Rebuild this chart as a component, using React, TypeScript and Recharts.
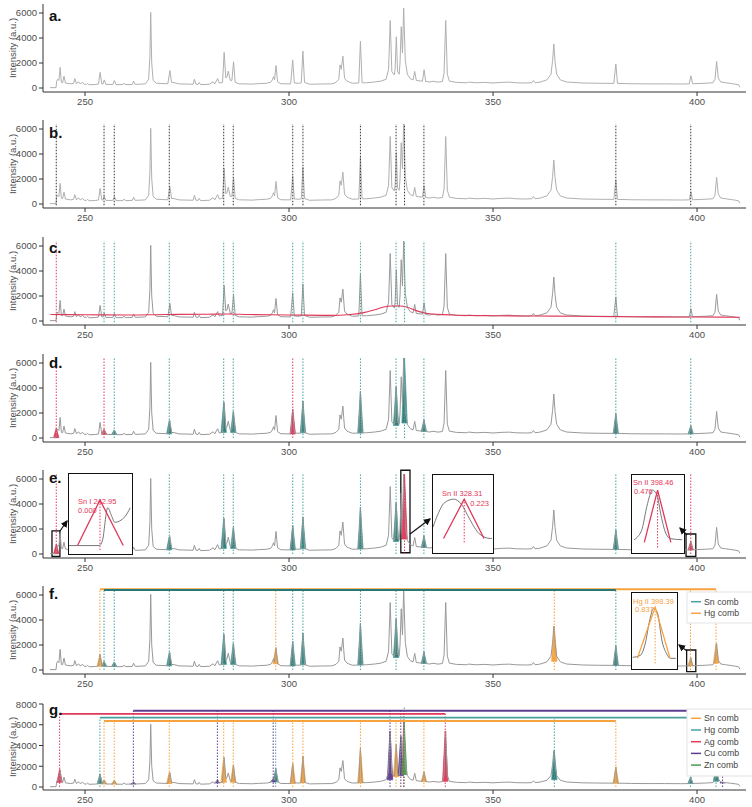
import React from 'react';
import { ComposedChart, Line, Area, XAxis, YAxis, ReferenceLine, ReferenceArea } from 'recharts';

const FONT = '"Liberation Sans", Arial, Helvetica, sans-serif';

// ---------- data ----------
const spectrum: [number, number][] = [
  [241.4, 30], [242.9, 30], [243.05, 550], [243.3, 700], [243.6, 600], [243.9, 1650], [244.2, 450], [244.5, 420],
  [244.85, 950], [245.2, 400], [246.5, 330], [247.2, 380], [247.5, 750], [247.9, 330], [248.4, 500], [248.8, 330],
  [249.4, 450], [249.8, 300], [250.3, 280], [250.6, 380], [251.0, 260], [252.5, 280], [253.3, 320], [253.7, 1250],
  [254.1, 330], [254.4, 320], [254.7, 650], [255.1, 290], [256.8, 280], [257.2, 600], [257.6, 270], [259.3, 270],
  [259.6, 400], [259.9, 270], [261.6, 290], [261.9, 550], [262.3, 290], [264.8, 330], [265.6, 700], [265.9, 2500],
  [266.1, 6050], [266.35, 2000], [266.7, 600], [267.5, 380], [270.3, 340], [270.8, 1400], [271.2, 450], [272.0, 420],
  [273, 330], [276.5, 300], [276.8, 700], [277.2, 300], [277.7, 290], [278.0, 450], [278.3, 270], [280.5, 300],
  [281.4, 500], [281.8, 330], [282.5, 750], [282.9, 400], [283.7, 450], [284.1, 2850], [284.5, 800], [284.8, 900],
  [285.1, 1350], [285.6, 600], [286.0, 620], [286.4, 2100], [286.8, 450], [287.8, 330], [289, 330], [291, 310],
  [292.5, 350], [294.5, 380], [295.5, 450], [295.9, 650], [296.2, 900], [296.45, 650], [296.8, 1800], [297.2, 500],
  [298.0, 340], [300.4, 330], [300.9, 2250], [301.3, 400], [302.5, 380], [303.0, 420], [303.4, 2950], [303.8, 450],
  [305, 300], [308, 320], [310.5, 330], [311.5, 450], [312.2, 700], [312.5, 1850], [312.8, 1500], [313.2, 2550],
  [313.6, 800], [314.2, 550], [314.6, 500], [315.5, 380], [317.1, 400], [317.5, 3750], [317.9, 420], [319, 420],
  [321, 480], [322.5, 550], [323.8, 700], [324.4, 1500], [324.8, 5400], [325.2, 1300], [325.8, 1050], [326.0, 1500],
  [326.3, 4100], [326.6, 1300], [327.0, 1100], [327.2, 2000], [327.5, 4900], [327.8, 2800], [328.1, 6400], [328.5, 2200],
  [329, 1100], [329.7, 750], [330.4, 650], [330.8, 1330], [331.2, 600], [332.7, 550], [333.1, 1460], [333.5, 520],
  [334.5, 480], [335.3, 540], [336.5, 470], [337.6, 520], [338.0, 1200], [338.4, 5400], [338.8, 1100], [339.3, 550],
  [341, 450], [343.5, 420], [344, 470], [346, 420], [348, 450], [350, 400], [352, 450], [354, 470], [355.5, 420],
  [358, 400], [359.5, 420], [359.9, 600], [360.3, 420], [361.5, 470], [363.2, 650], [364.2, 1100], [364.6, 2200],
  [364.9, 3520], [365.2, 2100], [365.6, 1100], [366.5, 650], [368, 480], [372, 400], [376, 380], [379.6, 370],
  [380.1, 1920], [380.5, 370], [384, 340], [388, 330], [392, 330], [396, 320], [398.1, 330], [398.5, 980],
  [398.9, 340], [402, 380], [403.9, 420], [404.4, 700], [404.8, 2130], [405.2, 800], [405.8, 480], [407, 420],
  [408.5, 350], [409.5, 300], [410.2, 250], [410.5, 60],
];

const baselineFit: [number, number][] = [
  [241.5, 520], [250, 500], [260, 480], [270, 520], [280, 540], [285, 560], [290, 520], [300, 480], [310, 450],
  [315, 520], [318, 650], [321, 900], [323, 1100], [325, 1200], [327, 1200], [329, 1100], [331, 850], [334, 600],
  [340, 480], [350, 420], [360, 400], [370, 380], [380, 350], [390, 330], [400, 320], [410.5, 300],
];

const xTicks = [250, 300, 350, 400];
const yTicks6 = [0, 1000, 2000, 3000, 4000, 5000, 6000];
const yTicks8 = [0, 2000, 4000, 6000, 8000];

const snLines = [242.95, 254.66, 257.16, 270.65, 283.99, 286.33, 300.91, 303.41, 317.5, 326.23, 328.31, 333.06, 380.1, 398.46];
const snHeights = [780, 700, 650, 1400, 2850, 2150, 2300, 2950, 3700, 4100, 6400, 1450, 1950, 1000];
const snBases = [30, 300, 280, 340, 450, 450, 330, 420, 400, 1000, 1200, 520, 370, 330];

const dRed = [242.95, 254.66, 300.91];
const eRed = [242.95, 328.31, 398.46];
const fSn = [254.66, 257.16, 270.65, 283.99, 286.33, 300.91, 303.41, 317.5, 326.23, 333.06, 380.1];

const hgLines = [253.65, 296.73, 365.02, 398.39, 404.66];
const hgHeights = [1250, 1750, 3500, 950, 2100];
const hgBases = [320, 500, 700, 330, 550];

const agLines = [243.78, 338.29];
const agHeights = [1700, 5400];
const agBases = [450, 550];

const cuLines = [261.84, 282.44, 296.12, 324.75, 327.4, 406.26];
const cuHeights = [420, 600, 800, 5400, 4900, 450];
const cuBases = [290, 400, 500, 700, 1100, 400];

const znLines = [328.23];
const znHeights = [6300];
const znBases = [1200];

// inset data (normalised intensities)
const insetSnI = [[242.55, 0], [242.94, 0], [242.98, 0.1], [243.05, 0.83], [243.1, 0.65], [243.14, 0.51], [243.27, 0.63], [243.34, 0.83]];
const insetSnITri = [[242.66, 0], [242.95, 1], [243.25, 0]];
const insetSn328 = [[327.984, 0.29], [328.034, 0.61], [328.1, 0.9], [328.2, 1.0], [328.284, 0.86], [328.367, 0.49], [328.467, 0.12], [328.584, 0], [328.6, 0]];
const insetSn328Tri = [[328.094, 0], [328.31, 1], [328.517, 0]];
const insetSn398 = [[398.213, 0.05], [398.247, 0.1], [398.297, 0.26], [398.347, 0.69], [398.407, 1.0], [398.453, 0.91], [398.497, 0.51], [398.547, 0.17], [398.597, 0.07], [398.72, 0.05]];
const insetSn398Tri = [[398.32, 0], [398.46, 1], [398.6, 0]];
const insetHg398 = [[398.15, 0.02], [398.233, 0.06], [398.283, 0.28], [398.333, 0.75], [398.373, 0.98], [398.413, 0.9], [398.466, 0.32], [398.513, 0.09], [398.553, 0], [398.61, 0]];
const insetHg398Tri = [[398.2, 0], [398.39, 1], [398.55, 0]];

// ---------- colours ----------
const GRAY_LIGHT = '#b0b0b0';
const GRAY = '#999999';
const TEAL = '#2b7773';
const TEAL_L = '#47a09c';
const RED = '#e2375a';
const ORANGE = '#f5a23f';
const PURPLE = '#5e3c8f';
const GREEN = '#4e9a4e';

const specData = spectrum.map(([x, y]) => ({ x, y }));
const fitData = baselineFit.map(([x, y]) => ({ x, y }));
const toXY = (a: number[][]) => a.map(([x, y]) => ({ x, y }));

const pick = (lines: number[], arr: number[], sel: number[]) => sel.map((s) => arr[lines.indexOf(s)]);
const exclude = (lines: number[], sel: number[]) => lines.filter((l) => !sel.includes(l));

function triangles(lines: number[], heights: number[], bases: number[], fill: string, stroke: string, key: string) {
  return lines.map((x, i) => {
    const b = bases[i];
    const data = [
      { x: x - 0.65, r: [b, b] },
      { x, r: [b, heights[i]] },
      { x: x + 0.65, r: [b, b] },
    ];
    return (
      <Area key={key + i} data={data} dataKey="r" type="linear" stroke={stroke} strokeWidth={0.8}
        fill={fill} fillOpacity={0.95} isAnimationActive={false} dot={false} activeDot={false} />
    );
  });
}

function dotted(lines: number[], color: string, y0: number, y1: number, key: string) {
  return lines.map((x, i) => (
    <ReferenceLine key={key + i} segment={[{ x, y: y0 }, { x, y: y1 }]} stroke={color}
      strokeDasharray="1.5 1.5" strokeWidth={1} ifOverflow="visible" />
  ));
}

function hline(x1: number, x2: number, y: number, color: string, key: string) {
  return <ReferenceLine key={key} segment={[{ x: x1, y }, { x: x2, y }]} stroke={color} strokeWidth={1.8} ifOverflow="visible" />;
}

const specLine = (key: string, color = GRAY) => (
  <Line key={key} data={specData} dataKey="y" type="linear" stroke={color} strokeWidth={1} dot={false}
    activeDot={false} isAnimationActive={false} />
);

function Panel({ top, height, yDomain, yTicks, children }: any) {
  return (
    <div style={{ position: 'absolute', left: 0, top, width: 752, height }}>
      <ComposedChart width={752} height={height} margin={{ top: 4, right: 6, bottom: 0, left: 0 }}>
        <XAxis type="number" dataKey="x" domain={[239.7, 412]} ticks={xTicks} allowDataOverflow
          tickSize={4} height={20} axisLine={{ stroke: '#333' }} tickLine={{ stroke: '#333' }}
          tick={{ fontSize: 9.5, fill: '#4d4d4d', fontFamily: FONT }} />
        <YAxis type="number" domain={yDomain} ticks={yTicks} allowDataOverflow width={43} tickSize={4}
          axisLine={{ stroke: '#333' }} tickLine={{ stroke: '#333' }}
          tick={{ fontSize: 9.5, fill: '#4d4d4d', fontFamily: FONT }}
          label={{ value: 'Intensity (a.u.)', angle: -90, position: 'center', dx: -9, style: { fontSize: 9.5, fill: '#4d4d4d', fontFamily: FONT } }} />
        {children}
      </ComposedChart>
    </div>
  );
}

function Inset({ x, y, w, h, xDomain, yDomain, gray, tri, color, center }: any) {
  return (
    <div style={{ position: 'absolute', left: x, top: y, width: w, height: h, border: '1.5px solid #111', background: '#fff', boxSizing: 'border-box' }}>
      <ComposedChart width={w - 3} height={h - 3} margin={{ top: 0, right: 0, bottom: 0, left: 0 }}>
        <XAxis type="number" dataKey="x" domain={xDomain} hide allowDataOverflow />
        <YAxis type="number" domain={yDomain} hide allowDataOverflow />
        <ReferenceLine segment={[{ x: center, y: -0.1 }, { x: center, y: 1.0 }]} stroke={color} strokeDasharray="1.5 1.5" />
        <Line data={toXY(gray)} dataKey="y" type="monotone" stroke="#777" strokeWidth={1} dot={false} activeDot={false} isAnimationActive={false} />
        <Line data={toXY(tri)} dataKey="y" type="linear" stroke={color} strokeWidth={1.3} dot={false} activeDot={false} isAnimationActive={false} />
      </ComposedChart>
    </div>
  );
}

const D6: [number, number] = [-320, 6720];

export default function App() {
  const dTeal = exclude(snLines, dRed);
  const eTeal = exclude(snLines, eRed);
  return (
    <div style={{ position: 'absolute', left: 0, top: 0, width: 752, height: 807, background: '#fff', overflow: 'hidden', fontFamily: FONT }}>
      {/* a */}
      <Panel top={0} height={112} yDomain={D6} yTicks={yTicks6}>
        {specLine('s', GRAY_LIGHT)}
      </Panel>
      {/* b */}
      <Panel top={116} height={112} yDomain={D6} yTicks={yTicks6}>
        {specLine('s', GRAY_LIGHT)}
        {dotted(snLines, '#333', -100, 6400, 'b')}
      </Panel>
      {/* c */}
      <Panel top={233} height={112} yDomain={D6} yTicks={yTicks6}>
        {specLine('s', GRAY)}
        <Line data={fitData} dataKey="y" type="monotone" stroke={RED} strokeWidth={1.1} dot={false} activeDot={false} isAnimationActive={false} />
        {dotted([242.95], RED, -100, 6400, 'cr')}
        {dotted(exclude(snLines, [242.95]), TEAL_L, -100, 6400, 'ct')}
      </Panel>
      {/* d */}
      <Panel top={350} height={112} yDomain={D6} yTicks={yTicks6}>
        {specLine('s')}
        {triangles(dTeal, pick(snLines, snHeights, dTeal), pick(snLines, snBases, dTeal), TEAL, TEAL_L, 'dt')}
        {triangles(dRed, pick(snLines, snHeights, dRed), pick(snLines, snBases, dRed), RED, RED, 'dr')}
        {dotted(dTeal, TEAL_L, 0, 6400, 'dlt')}
        {dotted(dRed, RED, 0, 6400, 'dlr')}
      </Panel>
      {/* e */}
      <Panel top={466} height={112} yDomain={D6} yTicks={yTicks6}>
        {specLine('s')}
        {triangles(eTeal, pick(snLines, snHeights, eTeal), pick(snLines, snBases, eTeal), TEAL, TEAL_L, 'et')}
        {triangles(eRed, pick(snLines, snHeights, eRed), pick(snLines, snBases, eRed), RED, RED, 'er')}
        {dotted(eTeal, TEAL_L, 0, 6400, 'elt')}
        {dotted(eRed, RED, 0, 6400, 'elr')}
        <ReferenceArea x1={241.9} x2={243.85} y1={-200} y2={1850} stroke="#111" strokeWidth={1.3} fill="none" fillOpacity={0} ifOverflow="visible" />
        <ReferenceArea x1={327.4} x2={329.65} y1={100} y2={6700} stroke="#111" strokeWidth={1.3} fill="none" fillOpacity={0} ifOverflow="visible" />
        <ReferenceArea x1={397.3} x2={399.7} y1={-200} y2={1600} stroke="#111" strokeWidth={1.3} fill="none" fillOpacity={0} ifOverflow="visible" />
      </Panel>
      {/* f */}
      <Panel top={582} height={112} yDomain={D6} yTicks={yTicks6}>
        {specLine('s')}
        {triangles(fSn, pick(snLines, snHeights, fSn), pick(snLines, snBases, fSn), TEAL, TEAL_L, 'ft')}
        {triangles(hgLines, hgHeights, hgBases, ORANGE, ORANGE, 'fo')}
        {dotted(fSn, TEAL_L, 0, 6400, 'flt')}
        {dotted(hgLines, ORANGE, 0, 6460, 'flo')}
        {hline(253.65, 404.66, 6460, ORANGE, 'fho')}
        {hline(254.66, 380.1, 6400, TEAL, 'fht')}
        <ReferenceArea x1={397.45} x2={399.7} y1={-130} y2={1600} stroke="#111" strokeWidth={1.3} fill="none" fillOpacity={0} ifOverflow="visible" />
      </Panel>
      {/* g */}
      <Panel top={700} height={110} yDomain={[-290, 8000]} yTicks={yTicks8}>
        {specLine('s')}
        {triangles(fSn, pick(snLines, snHeights, fSn), pick(snLines, snBases, fSn), ORANGE, ORANGE, 'go')}
        {triangles(hgLines, hgHeights, hgBases, TEAL, TEAL_L, 'gt')}
        {triangles(agLines, agHeights, agBases, RED, RED, 'gr')}
        {triangles(cuLines, cuHeights, cuBases, PURPLE, PURPLE, 'gp')}
        {triangles(znLines, znHeights, znBases, GREEN, GREEN, 'gg')}
        {dotted(fSn, ORANGE, 0, 6360, 'glo')}
        {dotted(hgLines, TEAL_L, 0, 6680, 'glt')}
        {dotted([...agLines, 328.07], RED, 0, 7040, 'glr')}
        {dotted(cuLines, PURPLE, 0, 7350, 'glp')}
        {dotted(znLines, GREEN, 0, 7650, 'glg')}
        {hline(261.84, 406.26, 7350, PURPLE, 'ghp')}
        {hline(243.78, 338.29, 7040, RED, 'ghr')}
        {hline(253.65, 404.66, 6680, TEAL_L, 'ght')}
        {hline(254.66, 380.1, 6360, ORANGE, 'gho')}
      </Panel>

      {/* insets */}
      <Inset x={68} y={473} w={65} h={82} xDomain={[242.55, 243.35]} yDomain={[-0.163, 1.57]} gray={insetSnI} tri={insetSnITri} color={RED} center={242.95} />
      <Inset x={431.7} y={474.3} w={62} h={80} xDomain={[327.984, 328.6]} yDomain={[-0.344, 1.614]} gray={insetSn328} tri={insetSn328Tri} color={RED} center={328.31} />
      <Inset x={631} y={474.3} w={53.5} h={80} xDomain={[398.19, 398.723]} yDomain={[-0.185, 1.29]} gray={insetSn398} tri={insetSn398Tri} color={RED} center={398.46} />
      <Inset x={631} y={592} w={47} h={78} xDomain={[398.143, 398.613]} yDomain={[-0.188, 1.276]} gray={insetHg398} tri={insetHg398Tri} color={ORANGE} center={398.39} />

      {/* overlay: panel letters, arrows, inset labels, legends */}
      <svg width={752} height={807} style={{ position: 'absolute', left: 0, top: 0, pointerEvents: 'none' }}>
        <defs>
          <marker id="ah" markerWidth="6" markerHeight="6" refX="5" refY="3" orient="auto">
            <path d="M0,0 L6,3 L0,6 z" fill="#111" />
          </marker>
        </defs>
        <g fontFamily={FONT} fontWeight="bold" fontSize={15} fill="#111">
          <text x={49} y={20.5}>a.</text>
          <text x={49} y={138}>b.</text>
          <text x={49} y={252.5}>c.</text>
          <text x={49} y={368}>d.</text>
          <text x={49} y={483}>e.</text>
          <text x={49} y={599}>f.</text>
          <text x={49} y={715}>g.</text>
        </g>
        <g stroke="#111" strokeWidth={1.2}>
          <line x1={60} y1={531} x2={67} y2={521} markerEnd="url(#ah)" />
          <line x1={410} y1={534} x2={430} y2={519} markerEnd="url(#ah)" />
          <line x1={687} y1={535} x2={680} y2={528} markerEnd="url(#ah)" />
          <line x1={687} y1={651} x2={679} y2={645} markerEnd="url(#ah)" />
        </g>
        <g fontFamily={FONT} fontSize={7.5}>
          <text x={78} y={504} fill={RED}>Sn I 242.95</text>
          <text x={78} y={513} fill={RED}>0.000</text>
          <text x={442} y={496} fill={RED}>Sn II 328.31</text>
          <text x={489} y={506} fill={RED} textAnchor="end">0.223</text>
          <text x={633} y={485} fill={RED}>Sn II 398.46</text>
          <text x={634} y={494} fill={RED}>0.476</text>
          <text x={633} y={604} fill={ORANGE}>Hg II 398.39</text>
          <text x={635} y={612} fill={ORANGE}>0.837</text>
        </g>
        {/* legend f */}
        <rect x={687} y={592} width={70} height={31} fill="#fff" stroke="#e3e3e3" />
        <line x1={691} x2={701} y1={601.7} y2={601.7} stroke={TEAL_L} strokeWidth={1.5} />
        <line x1={691} x2={701} y1={613.3} y2={613.3} stroke={ORANGE} strokeWidth={1.5} />
        <g fontFamily={FONT} fontSize={8.8} fill="#444">
          <text x={704} y={604.7}>Sn comb</text>
          <text x={704} y={616.3}>Hg comb</text>
        </g>
        {/* legend g */}
        <rect x={687} y={709} width={70} height={67} fill="#fff" stroke="#e3e3e3" />
        {[['Sn comb', ORANGE], ['Hg comb', TEAL_L], ['Ag comb', RED], ['Cu comb', PURPLE], ['Zn comb', GREEN]].map(([t, c], i) => (
          <g key={t}>
            <line x1={691} x2={701} y1={718.3 + i * 11.7} y2={718.3 + i * 11.7} stroke={c} strokeWidth={1.5} />
            <text x={704} y={721.3 + i * 11.7} fontFamily={FONT} fontSize={8.8} fill="#444">{t}</text>
          </g>
        ))}
      </svg>
    </div>
  );
}
